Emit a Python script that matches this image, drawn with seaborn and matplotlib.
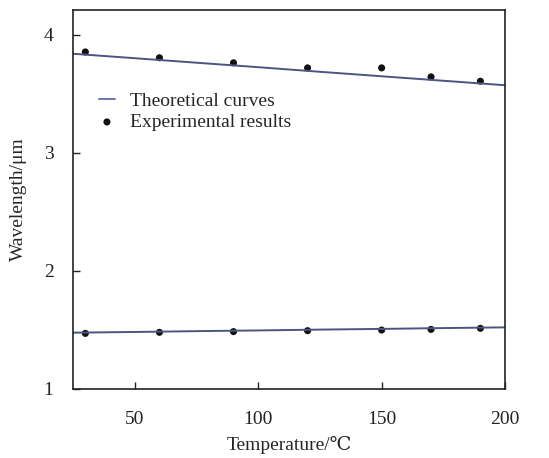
import pandas as pd
import seaborn as sns
import matplotlib.pyplot as plt

# Theoretical curves (sampled along temperature)
theory_t = [25, 50, 75, 100, 125, 150, 175, 200]
theory_upper = [3.840, 3.802, 3.764, 3.726, 3.687, 3.649, 3.611, 3.573]
theory_lower = [1.476, 1.482, 1.489, 1.495, 1.502, 1.508, 1.515, 1.521]

# Experimental points
exp_t = [30, 60, 90, 120, 150, 170, 190]
exp_upper = [3.855, 3.806, 3.763, 3.720, 3.720, 3.644, 3.607]
exp_lower = [1.470, 1.479, 1.485, 1.493, 1.498, 1.504, 1.513]

theory = pd.DataFrame({'t': theory_t, 'upper': theory_upper, 'lower': theory_lower})
exp = pd.DataFrame({'t': exp_t, 'upper': exp_upper, 'lower': exp_lower})

sns.set_style("ticks")
plt.rcParams['font.family'] = ['Liberation Serif', 'DejaVu Serif']

fig = plt.figure(figsize=(5.49, 4.58), dpi=100)
ax = fig.add_axes([0.133, 0.151, 0.787, 0.827])

line_color = '#4a5582'
sns.lineplot(data=theory, x='t', y='upper', ax=ax, color=line_color, lw=1.4,
             label='Theoretical curves')
sns.lineplot(data=theory, x='t', y='lower', ax=ax, color=line_color, lw=1.4)
sns.scatterplot(data=exp, x='t', y='upper', ax=ax, color='#111111', s=26,
                edgecolor='none', label='Experimental results')
sns.scatterplot(data=exp, x='t', y='lower', ax=ax, color='#111111', s=26,
                edgecolor='none')

ax.set_xlim(25, 200)
ax.set_ylim(1, 4.21)
ax.set_xticks([50, 100, 150, 200])
ax.set_yticks([1, 2, 3, 4])
ax.tick_params(direction='in', length=5, width=1, labelsize=14, colors='#222222')
ax.tick_params(axis='x', pad=16)
ax.tick_params(axis='y', pad=14)
for s in ax.spines.values():
    s.set_visible(True)
    s.set_linewidth(1.2)
    s.set_color('#222222')

ax.set_xlabel('Temperature/℃', fontsize=14, labelpad=6)
ax.set_ylabel('Wavelength/μm', fontsize=14, labelpad=12)

leg = ax.legend(loc='upper left', bbox_to_anchor=(0.02, 0.83), frameon=False,
                fontsize=14, handlelength=0.8, handletextpad=0.8,
                labelspacing=0.2)
leg.get_lines()[0].set_color('#6a78b0')

plt.savefig('out.png', dpi=100)
plt.close()
